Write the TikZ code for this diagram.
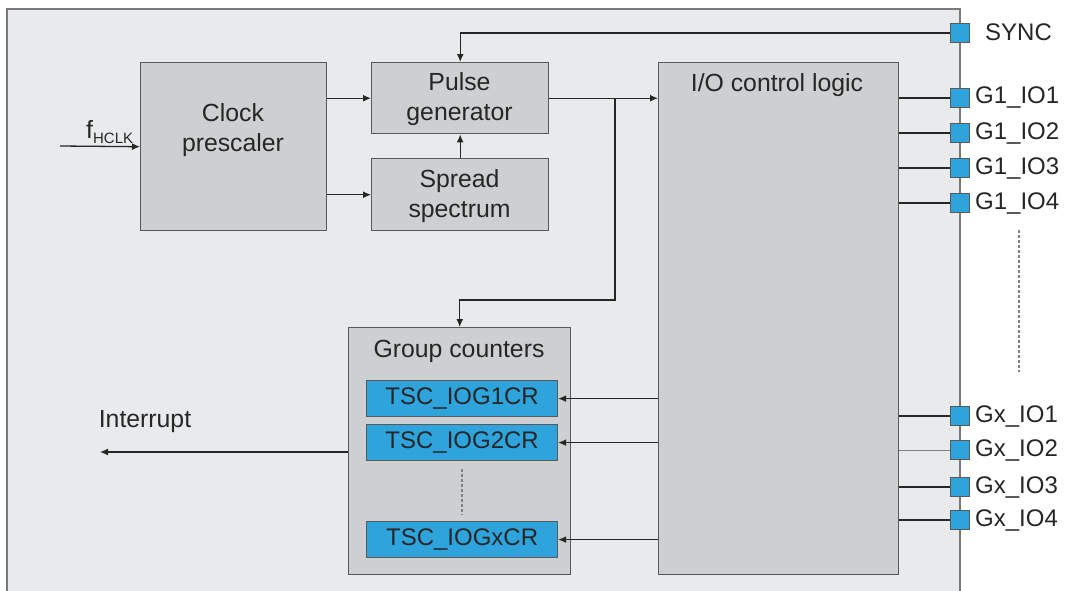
\documentclass[tikz,border=0pt]{standalone}
\usepackage{fontspec}
\setmainfont{Liberation Sans}
\usetikzlibrary{arrows.meta}
\definecolor{bgc}{HTML}{E8EAEC}
\definecolor{blockfill}{HTML}{CDCFD1}
\definecolor{blockline}{HTML}{595959}
\definecolor{pinblue}{HTML}{2EA3DC}
\definecolor{framec}{HTML}{7A7A7A}
\begin{document}
\begin{tikzpicture}[x=1pt,y=-1pt,
 blk/.style={draw=blockline, fill=blockfill, line width=1.4pt, anchor=north west, inner sep=0pt},
 reg/.style={draw=blockline, fill=pinblue, line width=1.2pt, anchor=north west, inner sep=0pt, minimum width=191pt, minimum height=36pt, font=\fontsize{24}{29}\selectfont, text=black!85},
 pin/.style={draw=blockline, fill=pinblue, line width=1.1pt, minimum size=19pt, inner sep=0pt},
 txt/.style={font=\fontsize{24.8}{30}\selectfont, align=center, inner sep=0pt, text=black!85},
 pinlbl/.style={font=\fontsize{24}{29}\selectfont, anchor=west, inner sep=0pt, text=black!85},
 con/.style={line width=1.3pt, draw=black!85},
 arr/.style={con, -{Latex[length=8pt,width=7pt]}},
 dotl/.style={draw=gray, line width=1.2pt, dash pattern=on 3pt off 2pt}]
\useasboundingbox (0,0) rectangle (1067,590);
\clip (0,0) rectangle (1067,590);
\fill[white] (0,0) rectangle (1067,590);
\draw[draw=framec, fill=bgc, line width=1.5pt] (7,9) rectangle (960,610);

% blocks
\node[blk, minimum width=186pt, minimum height=168pt] (clk) at (140,62) {};
\node[txt] (clktxt) at (233,130) {Clock\\prescaler};
\node[blk, minimum width=177pt, minimum height=71pt] (pulse) at (371,62) {};
\node[txt] (pulsetxt) at (459.5,99.5) {Pulse\\generator};
\node[blk, minimum width=177pt, minimum height=72pt] (spread) at (371,158) {};
\node[txt] (spreadtxt) at (459.5,196) {Spread\\spectrum};
\node[blk, minimum width=240pt, minimum height=512pt] (io) at (658,62) {};
\node[txt] (iotxt) at (777,85) {I/O control logic};
\node[blk, minimum width=222pt, minimum height=247pt] (gc) at (348,327) {};
\node[txt] (gctxt) at (459,351) {Group counters};
\node[reg] (r1) at (366,380) {TSC\_IOG1CR};
\node[reg] (r2) at (366,424) {TSC\_IOG2CR};
\node[reg] (rx) at (366,521) {TSC\_IOGxCR};
\draw[dotl] (462,469) -- (462,515);

% pins
\node[pin] (sync) at (960,33) {};
\node[pinlbl] (synclbl) at (985,32) {SYNC};
\foreach \n/\y/\t in {g11/98/G1\_IO1, g12/133/G1\_IO2, g13/168/G1\_IO3, g14/203/G1\_IO4,
                      gx1/416/Gx\_IO1, gx2/450/Gx\_IO2, gx3/487/Gx\_IO3, gx4/520/Gx\_IO4}{
  \node[pin] (\n) at (960,\y) {};
  \node[pinlbl] (\n lbl) at (975,\y) {\t};
}
\draw[dotl] (1019,230) -- (1019,372);

% input
\coordinate (fin) at (60,146);
\node[anchor=base west, inner sep=0pt, text=black!85] (fhclk) at (86,138)
  {{\fontsize{25}{25}\selectfont f}{\fontsize{15}{15}\selectfont\raisebox{-5pt}{HCLK}}};
\draw[arr] (fin) -- (clk.west);

% connectors
\draw[arr] (clk.east |- pulse.west) -- (pulse.west);
\draw[arr] (clk.east |- spread.west) -- (spread.west);
\draw[arr] (spread.north) -- (pulse.south);
\draw[arr] (sync.west) -| (pulse.north);
\draw[arr] (pulse.east) -- (pulse.east -| io.west);
\coordinate (br) at (615,97.5);
\coordinate (bk) at (615,300);
\draw[arr] (br) -- (bk) -| (gc.north);
\foreach \r in {r1,r2,rx}{
  \draw[arr] (io.west |- \r.east) -- (\r.east);
}
\foreach \n in {g11,g12,g13,g14,gx1,gx3,gx4}{
  \draw[con] (io.east |- \n.west) -- (\n.west);
}
\draw[draw=gray, line width=0.8pt] (io.east |- gx2.west) -- (gx2.west);
\coordinate (intout) at (100,452);
\draw[arr] (gc.west |- intout) -- (intout);
\node[txt] (intlbl) at (145,422) {Interrupt};
\end{tikzpicture}
\end{document}
